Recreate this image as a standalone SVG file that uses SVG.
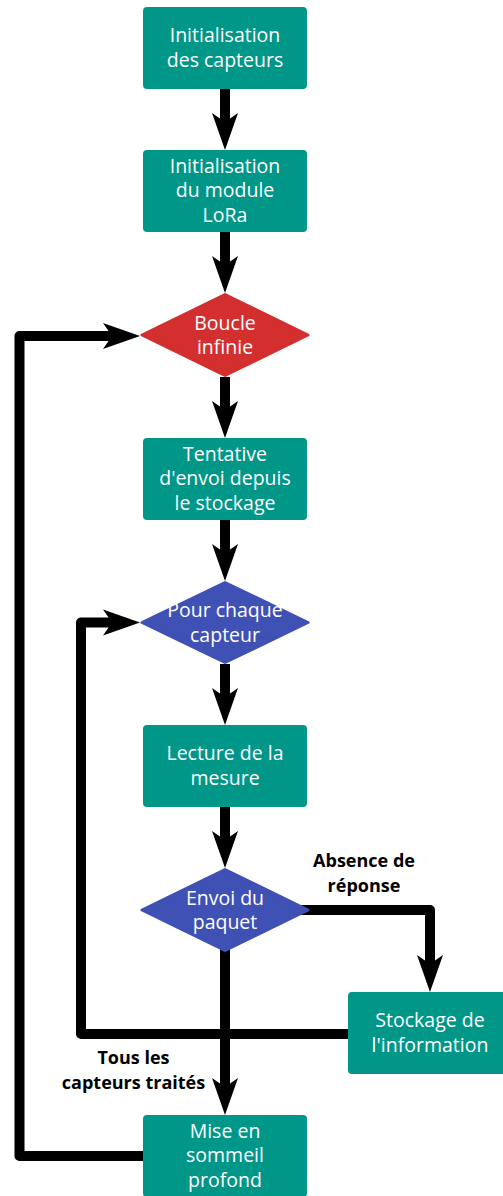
<svg xmlns="http://www.w3.org/2000/svg" width="503" height="1196" viewBox="0 0 503 1196">
<style>
.box{fill:#009688;}
.red{fill:#d32f2f;stroke:#d32f2f;stroke-width:3;stroke-linejoin:round;}
.blue{fill:#3f51b5;stroke:#3f51b5;stroke-width:3;stroke-linejoin:round;}
.t{font-family:"Open Sans","Noto Sans",sans-serif;font-size:19.5px;fill:#ffffff;text-anchor:middle;}
.lbl{font-family:"Open Sans","Noto Sans",sans-serif;font-size:18px;font-weight:bold;fill:#000000;text-anchor:middle;}
.edge{fill:none;stroke:#000000;stroke-width:10;stroke-linejoin:round;marker-end:url(#arr);}
</style>
<defs>
<marker id="arr" viewBox="-40 -14 42 28" refX="-20" refY="0" markerWidth="42" markerHeight="28" markerUnits="userSpaceOnUse" orient="auto">
<path d="M0,0 L-37,-13 L-28,0 L-37,13 Z" fill="#000000"/>
</marker>
</defs>
<rect width="503" height="1196" fill="#ffffff"/>
<g id="connectors">
<path class="edge" d="M225,89 V130"/>
<path class="edge" d="M225,232 V273"/>
<path class="edge" d="M225,377 V418"/>
<path class="edge" d="M225,520 V561"/>
<path class="edge" d="M225,664 V705"/>
<path class="edge" d="M225,807 V848"/>
<path class="edge" d="M300,910 H430 V972"/>
<path class="edge" d="M350,1034 H81 V622.5 H120"/>
<path class="edge" d="M225,945 V1095"/>
<path class="edge" d="M145,1156 H19.5 V336 H120"/>
<text class="lbl" x="364" y="867">Absence de</text>
<text class="lbl" x="364" y="892">réponse</text>
<text class="lbl" x="133.5" y="1064">Tous les</text>
<text class="lbl" x="133.5" y="1089">capteurs traités</text>
</g>
<g id="n1">
<rect class="box" x="143" y="7" width="164" height="82" rx="4"/>
<text class="t" x="225" y="42">Initialisation</text>
<text class="t" x="225" y="66.5">des capteurs</text>
</g>
<g id="n2">
<rect class="box" x="143" y="150" width="164" height="82" rx="4"/>
<text class="t" x="225" y="172.5">Initialisation</text>
<text class="t" x="225" y="197">du module</text>
<text class="t" x="225" y="221.5">LoRa</text>
</g>
<g id="n3">
<polygon class="red" points="142,335 225,294.5 308,335 225,375.5"/>
<text class="t" x="225" y="329.75">Boucle</text>
<text class="t" x="225" y="354.25">infinie</text>
</g>
<g id="n4">
<rect class="box" x="143" y="438" width="164" height="82" rx="4"/>
<text class="t" x="225" y="460.5">Tentative</text>
<text class="t" x="225" y="485">d'envoi depuis</text>
<text class="t" x="225" y="509.5">le stockage</text>
</g>
<g id="n5">
<polygon class="blue" points="142,622.5 225,582.5 308,622.5 225,662.5"/>
<text class="t" x="225" y="617.25">Pour chaque</text>
<text class="t" x="225" y="641.75">capteur</text>
</g>
<g id="n6">
<rect class="box" x="143" y="725" width="164" height="82" rx="4"/>
<text class="t" x="225" y="760">Lecture de la</text>
<text class="t" x="225" y="784.5">mesure</text>
</g>
<g id="n7">
<polygon class="blue" points="142,910 225,869.5 308,910 225,950.5"/>
<text class="t" x="225" y="904.75">Envoi du</text>
<text class="t" x="225" y="929.25">paquet</text>
</g>
<g id="n8">
<rect class="box" x="348" y="992" width="164" height="82" rx="4"/>
<text class="t" x="430" y="1027">Stockage de</text>
<text class="t" x="430" y="1051.5">l'information</text>
</g>
<g id="n9">
<rect class="box" x="143" y="1115" width="164" height="82" rx="4"/>
<text class="t" x="225" y="1137.5">Mise en</text>
<text class="t" x="225" y="1162">sommeil</text>
<text class="t" x="225" y="1186.5">profond</text>
</g>
</svg>
